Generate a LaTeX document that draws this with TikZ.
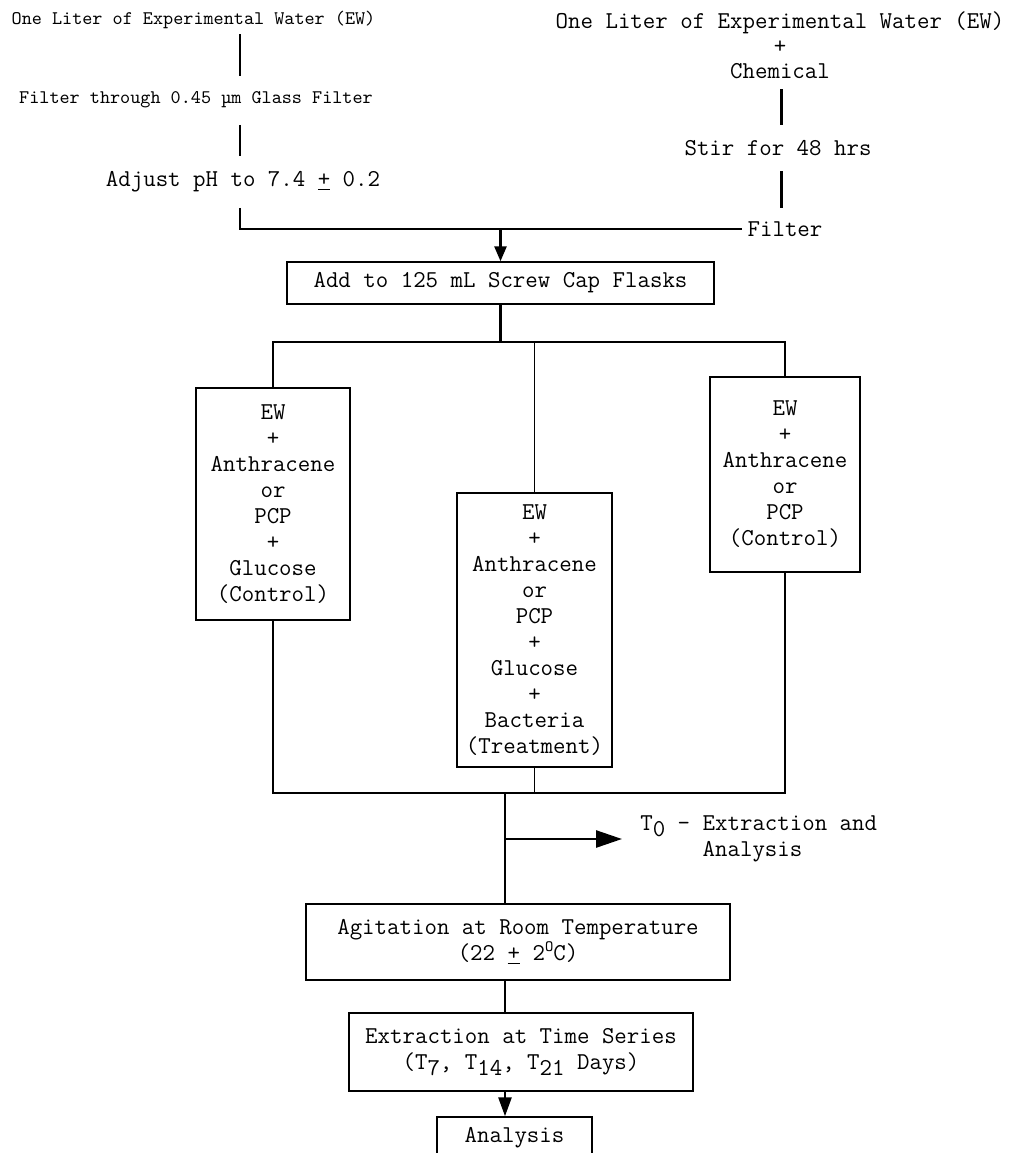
\documentclass[tikz,border=0pt]{standalone}
\usepackage{fontspec}
\usetikzlibrary{arrows.meta}
\newcommand{\bigtt}{\ttfamily\fontsize{13.77}{14.8}\selectfont}
\newcommand{\smalltt}{\ttfamily\fontsize{10.95}{12}\selectfont}
\newcommand{\lowered}[1]{\raisebox{-0.55ex}{#1}}
\begin{document}
\begin{tikzpicture}[
    plaintext/.style = {font=\bigtt, align=center, inner sep=3pt},
    flowbox/.style = {draw, line width=0.8pt, font=\bigtt, align=center, inner sep=0pt},
    conn/.style = {line width=1.5pt},
    thinconn/.style = {line width=1pt}
]
\useasboundingbox (0,0) rectangle (20.28,-23.06);
% water preparation, left branch
\node[plaintext, font=\smalltt] (ewA) at (3.87,-0.40) {One Liter of Experimental Water (EW)};
\node[plaintext, font=\smalltt] (filtA) at (3.92,-2.00) {Filter through 0.45 µm Glass Filter};
\node[plaintext] (adjust) at (4.86,-3.64) {Adjust pH to 7.4 \underline{+} 0.2};
\coordinate (stemA) at (4.80,0);
\draw[conn, shorten >=0.2cm] (stemA |- ewA.south) -- (stemA |- filtA.north);
\draw[conn, shorten <=0.22cm, shorten >=0.2cm] (stemA |- filtA.south) -- (stemA |- adjust.north);
% chemical solution, right branch
\node[plaintext, font=\ttfamily\fontsize{13.77}{14.2}\selectfont] (ewB) at (15.60,-0.90) {One Liter of Experimental Water (EW)\\+\\Chemical};
\node[plaintext] (stir) at (15.56,-2.96) {Stir for 48 hrs};
\node[plaintext] (filtB) at (15.70,-4.58) {Filter};
\coordinate (stemB) at (15.63,0);
\draw[conn, shorten <=0.1cm, shorten >=0.2cm] (stemB |- ewB.south) -- (stemB |- stir.north);
\draw[conn, shorten <=0.2cm, shorten >=0.15cm] (stemB |- stir.south) -- (stemB |- filtB.north);
\draw[conn, shorten <=0.2cm] (stemA |- adjust.south) |- (filtB.west);
% flasks
\node[flowbox, minimum width=8.54cm, minimum height=0.84cm] (flasks) at (10.01,-5.66) {Add to 125 mL Screw Cap Flasks};
\draw[conn, -{Triangle[length=0.3cm,width=0.24cm]}] (flasks.north |- filtB.west) -- (flasks.north);
\node[flowbox, minimum width=3.08cm, minimum height=4.64cm] (ctlA) at (5.46,-10.08) {EW\\+\\Anthracene\\or\\PCP\\+\\Glucose\\(Control)};
\node[flowbox, minimum width=3.10cm, minimum height=5.48cm] (treat) at (10.69,-12.60) {EW\\+\\Anthracene\\or\\PCP\\+\\Glucose\\+\\Bacteria\\(Treatment)};
\node[flowbox, minimum width=3.00cm, minimum height=3.90cm] (ctlB) at (15.70,-9.49) {EW\\+\\Anthracene\\or\\PCP\\(Control)};
\coordinate (split) at (10.01,-6.84);
\draw[conn] (flasks.south) -- (split);
\draw[conn] (ctlA.north) |- (ctlB.north |- split) -- (ctlB.north);
\draw[thinconn] (treat.north |- split) -- (treat.north);
% collect and go on
\coordinate (merge) at (10.10,-15.86);
\coordinate (branch) at (10.10,-16.78);
\draw[conn] (ctlA.south) |- (ctlB.south |- merge) -- (ctlB.south);
\draw[thinconn] (treat.south) -- (treat.south |- merge);
\node[plaintext, anchor=west, align=left, inner sep=0pt] (tzero) at (12.80,-16.78) {T\lowered{0} - Extraction and\\\phantom{T0 - }Analysis};
\draw[conn, -{Triangle[length=0.52cm,width=0.34cm]}, shorten >=0.36cm] (branch) -- (tzero.west);
\node[flowbox, minimum width=8.48cm, minimum height=1.52cm] (agit) at (10.36,-18.84) {Agitation at Room Temperature\\(22 \underline{+} 2\raisebox{0.9ex}{\small O}C)};
\node[flowbox, minimum width=6.88cm, minimum height=1.56cm] (extract) at (10.42,-21.04) {Extraction at Time Series\\(T\lowered{7}, T\lowered{14}, T\lowered{21} Days)};
\node[flowbox, minimum width=3.10cm, minimum height=0.84cm] (ana) at (10.29,-22.76) {Analysis};
\draw[conn] (merge) -- (merge |- agit.north);
\draw[conn] (merge |- agit.south) -- (merge |- extract.north);
\draw[conn, -{Triangle[length=0.38cm,width=0.26cm]}] (merge |- extract.south) -- (merge |- ana.north);
\end{tikzpicture}
\end{document}
